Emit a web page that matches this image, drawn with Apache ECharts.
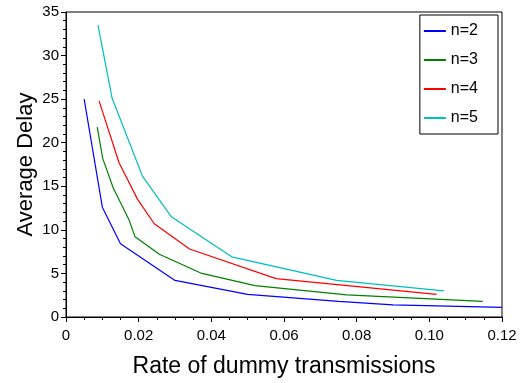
<!DOCTYPE html>
<html>
<head>
<meta charset="utf-8">
<script src="https://cdn.jsdelivr.net/npm/echarts@6/dist/echarts.min.js"></script>
<style>
  html, body { margin: 0; padding: 0; background: #fff; }
  #chart { width: 525px; height: 383px; }
</style>
</head>
<body>
<div id="chart"></div>
<script>
// rate of dummy transmissions / average delay, one pair per n
const n2Rate = [0.005, 0.010, 0.015, 0.030, 0.050, 0.075, 0.090, 0.120];
const n2Delay = [25.0, 12.6, 8.4, 4.2, 2.6, 1.8, 1.4, 1.1];
const n3Rate = [0.0086, 0.0101, 0.013, 0.0173, 0.019, 0.0257, 0.0374, 0.052, 0.0773, 0.1147];
const n3Delay = [21.8, 18.2, 14.8, 11.2, 9.2, 7.2, 5.0, 3.6, 2.55, 1.8];
const n4Rate = [0.0091, 0.0146, 0.0197, 0.0243, 0.034, 0.0578, 0.102];
const n4Delay = [24.8, 17.7, 13.5, 10.7, 7.8, 4.4, 2.6];
const n5Rate = [0.0088, 0.0127, 0.021, 0.029, 0.0456, 0.0745, 0.104];
const n5Delay = [33.5, 25.1, 16.2, 11.5, 6.9, 4.2, 3.0];

const seriesNames = ['n=2', 'n=3', 'n=4', 'n=5'];
const seriesColors = ['#0000ff', '#008000', '#ff0000', '#00bfbf'];
const rates = [n2Rate, n3Rate, n4Rate, n5Rate];
const delays = [n2Delay, n3Delay, n4Delay, n5Delay];

const myChart = echarts.init(document.getElementById('chart'));
const font = 'Liberation Sans, Arial, sans-serif';

const option = {
  backgroundColor: '#fff',
  animation: false,
  grid: {
    left: 66,
    right: 23,
    top: 12,
    bottom: 63,
    show: true,
    borderColor: '#000',
    borderWidth: 1,
  },
  legend: {
    orient: 'vertical',
    right: 27,
    top: 15,
    data: seriesNames,
    icon: 'rect',
    itemWidth: 22,
    itemHeight: 2,
    itemGap: 13,
    padding: [8, 20, 8, 4],
    borderColor: '#000',
    borderWidth: 1,
    textStyle: { fontSize: 16, color: '#000', fontFamily: font },
  },
  xAxis: {
    type: 'value',
    min: 0,
    max: 0.12,
    interval: 0.02,
    name: 'Rate of dummy transmissions',
    nameLocation: 'middle',
    nameGap: 38,
    nameTextStyle: { fontSize: 23, color: '#000', fontFamily: font },
    axisLine: { lineStyle: { color: '#000', width: 1 } },
    axisTick: { show: true, length: 5, lineStyle: { color: '#000' } },
    minorTick: { show: true, splitNumber: 4, length: 3, lineStyle: { color: '#000' } },
    splitLine: { show: false },
    axisLabel: {
      color: '#000',
      fontSize: 15,
      fontFamily: font,
      margin: 11,
      formatter: function (v) { return v === 0 ? '0' : v.toFixed(2); },
    },
  },
  yAxis: {
    type: 'value',
    min: 0,
    max: 35,
    interval: 5,
    name: 'Average Delay',
    nameLocation: 'middle',
    nameGap: 29,
    nameMoveOverlap: false,
    nameTextStyle: { fontSize: 22, color: '#000', fontFamily: font },
    axisLine: { show: true, lineStyle: { color: '#000', width: 1 } },
    axisTick: { show: true, length: 5, lineStyle: { color: '#000' } },
    minorTick: { show: true, splitNumber: 5, length: 3, lineStyle: { color: '#000' } },
    splitLine: { show: false },
    axisLabel: { color: '#000', fontSize: 15, fontFamily: font, margin: 7 },
  },
  series: seriesNames.map(function (name, i) {
    return {
      name: name,
      type: 'line',
      showSymbol: false,
      symbol: 'none',
      color: seriesColors[i],
      lineStyle: { width: 1.2, color: seriesColors[i] },
      data: rates[i].map(function (r, k) { return [r, delays[i][k]]; }),
    };
  }),
};
myChart.setOption(option);
</script>
</body>
</html>
